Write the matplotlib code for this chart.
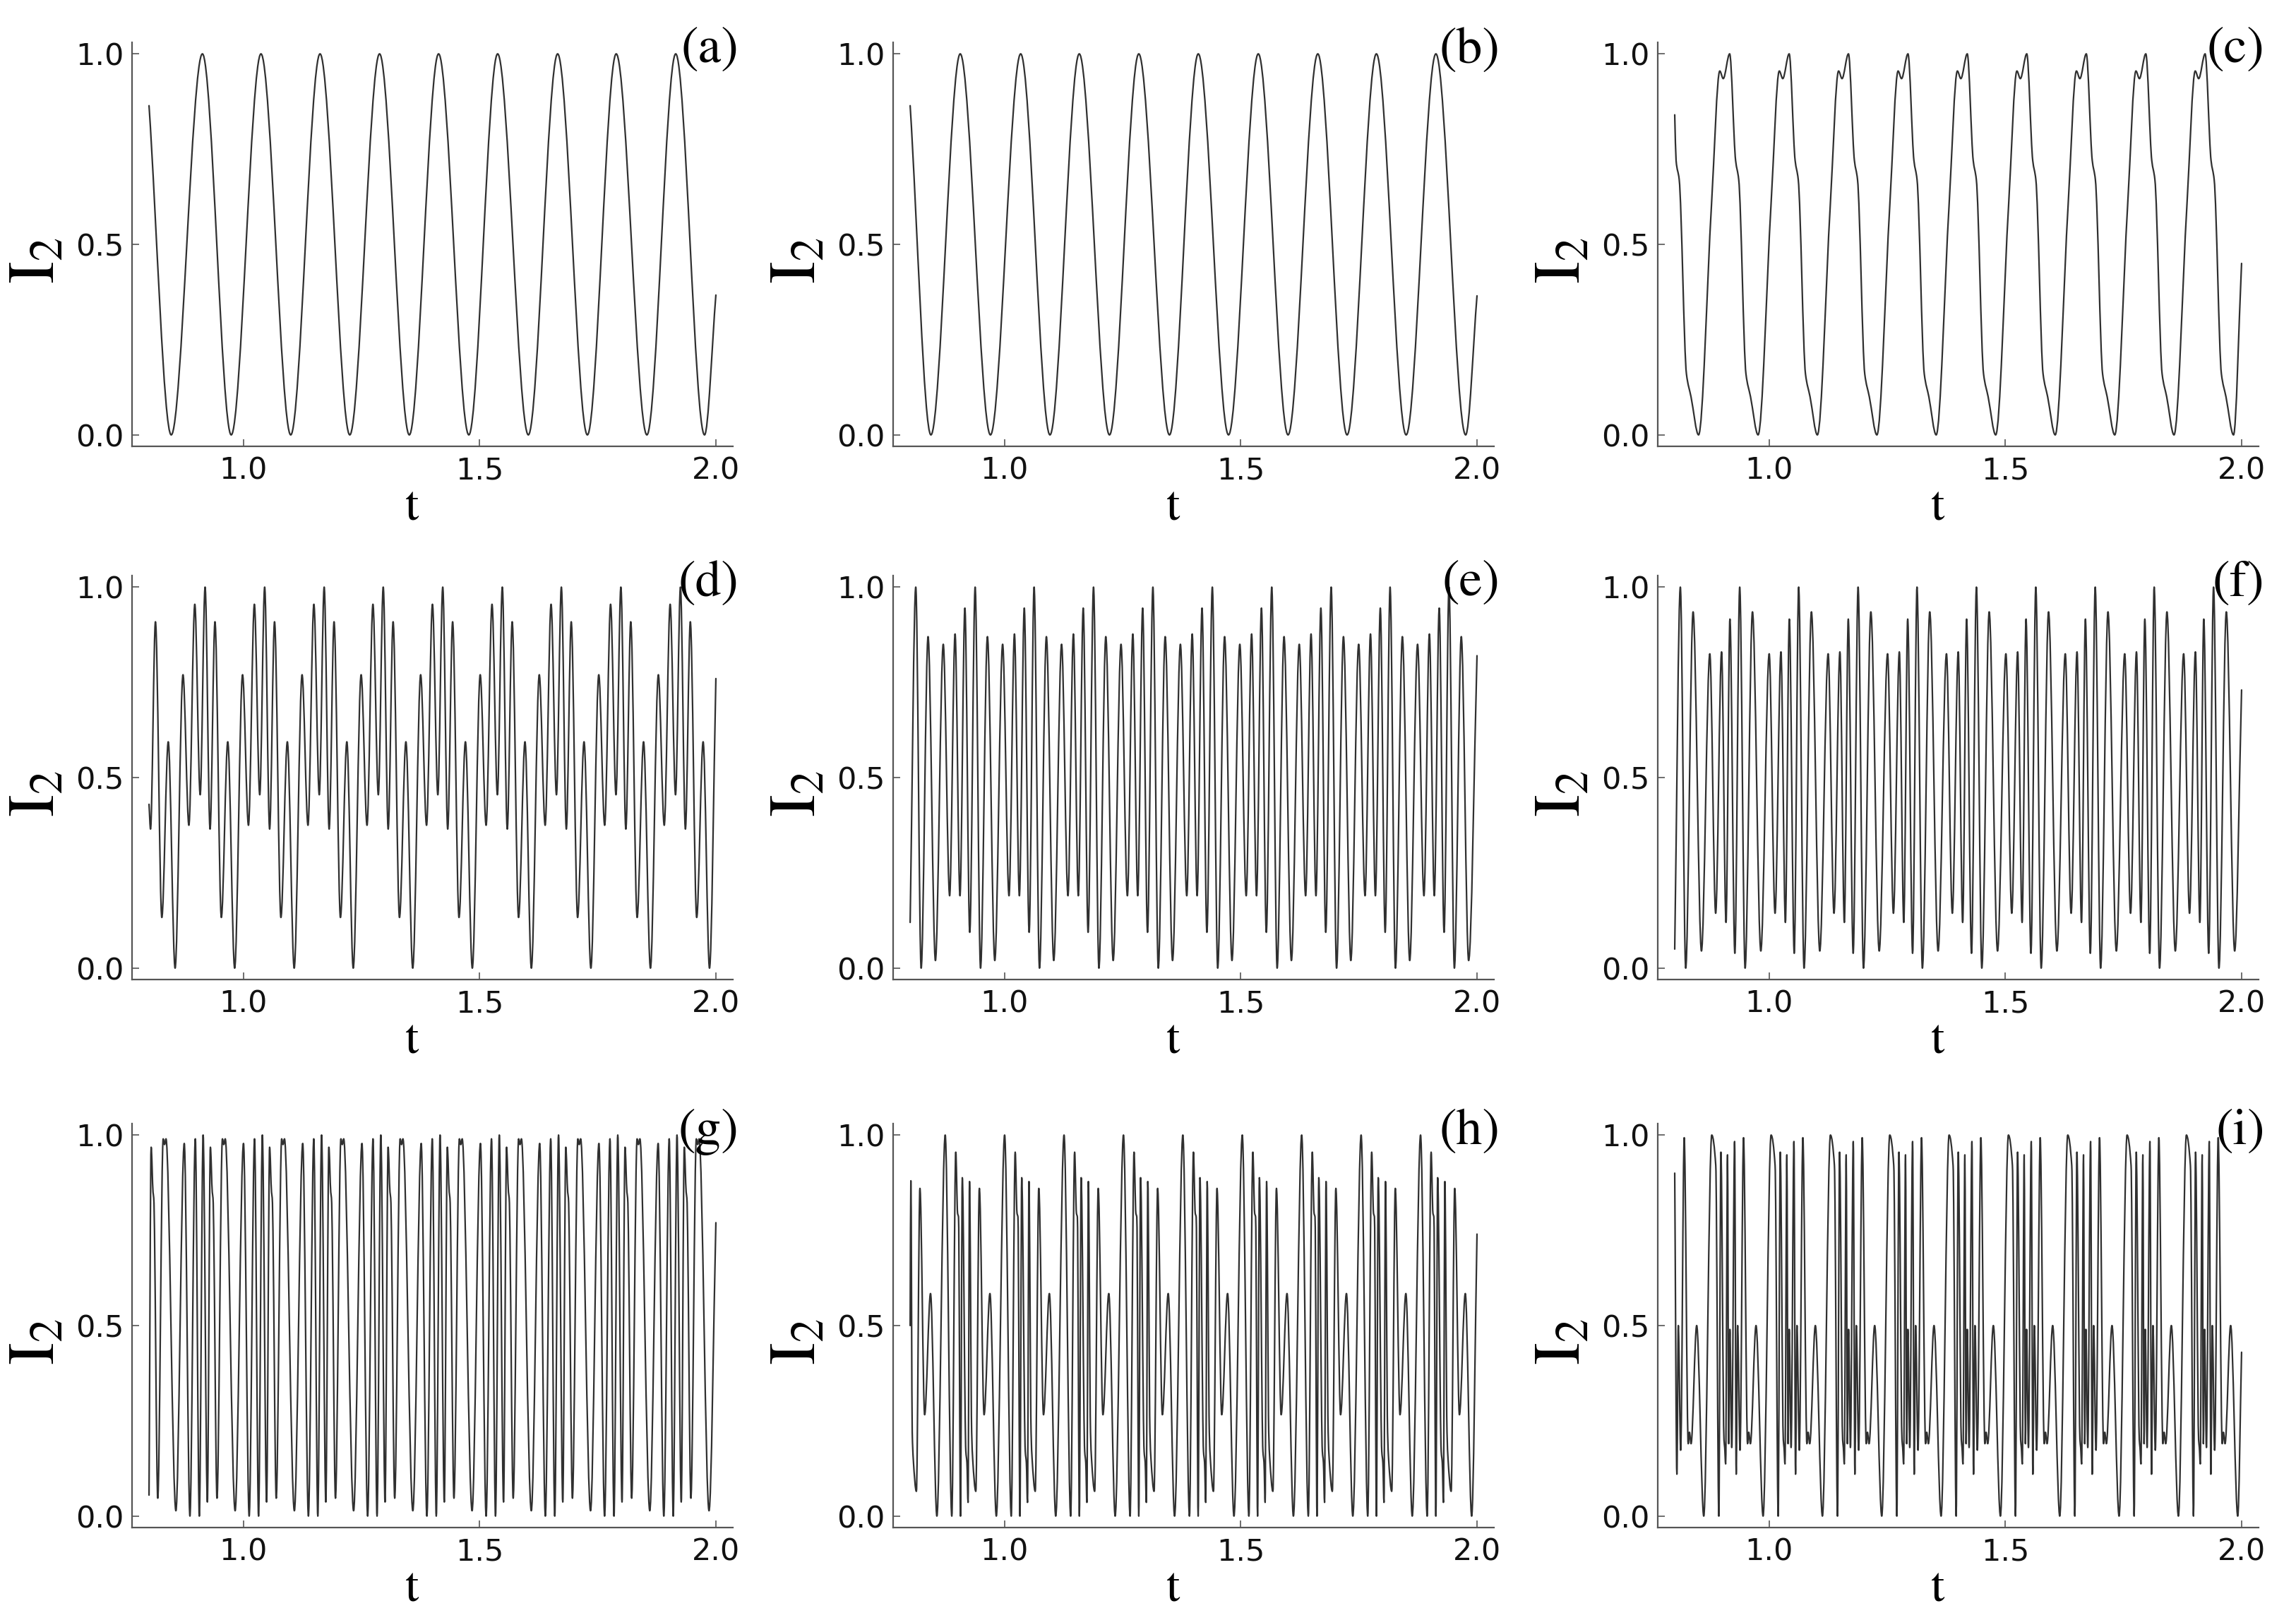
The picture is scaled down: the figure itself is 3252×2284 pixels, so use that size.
import numpy as np
import matplotlib
matplotlib.use("Agg")
import matplotlib.pyplot as plt
from matplotlib.path import Path
from matplotlib.patches import PathPatch

# ---- data ----
# (a), (b): turning points of the plain oscillation
t_a = [0.800, 0.847, 0.913, 0.974, 1.037, 1.100, 1.162, 1.225, 1.288, 1.351, 1.413,
       1.477, 1.538, 1.603, 1.665, 1.728, 1.789, 1.854, 1.915, 1.976, 2.000]
I_a = [0.864, 0, 1, 0, 1, 0, 1, 0, 1, 0, 1, 0, 1, 0, 1, 0, 1, 0, 1, 0, 0.367]

t_b = [0.800, 0.844, 0.906, 0.970, 1.034, 1.096, 1.158, 1.222, 1.284, 1.349, 1.410,
       1.474, 1.537, 1.600, 1.663, 1.725, 1.787, 1.850, 1.913, 1.976, 2.000]
I_b = [0.864, 0, 1, 0, 1, 0, 1, 0, 1, 0, 1, 0, 1, 0, 1, 0, 1, 0, 1, 0, 0.365]

# (c)-(i): every drive period looks the same, so each panel is stored as
# the start time of each period plus the turning points inside one period
c_ref = [0.7245, 0.8505, 0.9765, 1.1020, 1.2280, 1.3535, 1.4795, 1.6055, 1.7315, 1.8570, 1.9830]
c_dt = [0.0000, 0.0272, 0.0449, 0.0522, 0.0658, 0.0784, 0.0850, 0.1003, 0.1100]
c_I = [0.00, 0.60, 0.955, 0.935, 1.00, 0.72, 0.67, 0.16, 0.10]
c_ends = ([0.800], [0.84], [2.000], [0.45])

d_ref = [0.7292, 0.8552, 0.9813, 1.1073, 1.2323, 1.3583, 1.4844, 1.6094, 1.7354, 1.8615, 1.9865]
d_dt = [0.0000, 0.0167, 0.0292, 0.0417, 0.0531, 0.0635, 0.0740, 0.0844, 0.0979, 0.1115]
d_I = [0.00, 0.77, 0.375, 0.955, 0.455, 1.00, 0.365, 0.909, 0.133, 0.594]
d_ends = ([0.800], [0.43], [2.000], [0.76])

e_ref = [0.6861, 0.8119, 0.9376, 1.0624, 1.1882, 1.3139, 1.4397, 1.5655, 1.6913, 1.8160, 1.9407]
e_dt = [0.0000, 0.0114, 0.0260, 0.0416, 0.0582, 0.0717, 0.0832, 0.0936, 0.1040, 0.1143]
e_I = [1.00, 0.00, 0.87, 0.02, 0.85, 0.19, 0.877, 0.19, 0.945, 0.094]
e_ends = ([0.800], [0.12], [2.000], [0.82])

f_ref = [0.6861, 0.8119, 0.9376, 1.0624, 1.1882, 1.3129, 1.4387, 1.5644, 1.6902, 1.8150, 1.9407]
f_dt = [0.0000, 0.0114, 0.0270, 0.0447, 0.0624, 0.0748, 0.0873, 0.0967, 0.1050, 0.1154]
f_I = [1.00, 0.00, 0.935, 0.045, 0.825, 0.144, 0.83, 0.12, 0.916, 0.039]
f_ends = ([0.800], [0.05], [2.000], [0.73])

g_ref = [0.7492, 0.8746, 1.0000, 1.1254, 1.2508, 1.3762, 1.5016, 1.6270, 1.7524, 1.8778]
g_dt = [0.0000, 0.0120, 0.0234, 0.0319, 0.0399, 0.0489, 0.0553, 0.0593, 0.0608, 0.0693,
        0.0808, 0.0837, 0.0867, 0.1077]
g_I = [0.978, 0.00, 0.99, 0.00, 1.00, 0.037, 0.968, 0.85, 0.835, 0.047, 0.99, 0.975, 0.99, 0.014]
g_ends = ([0.800], [0.055], [2.000], [0.77])

h_ref = [0.7484, 0.8742, 1.0000, 1.1258, 1.2516, 1.3773, 1.5031, 1.6289, 1.7547, 1.8805]
h_dt = [0.0000, 0.0140, 0.0224, 0.0262, 0.0282, 0.0324, 0.0362, 0.0437, 0.0460, 0.0484,
        0.0515, 0.0560, 0.0582, 0.0648, 0.0723, 0.0823, 0.0947, 0.1082]
h_I = [1.00, 0.00, 0.955, 0.795, 0.785, 0.00, 0.888, 0.17, 0.14, 0.036,
       0.878, 0.22, 0.15, 0.065, 0.86, 0.266, 0.584, 0.00]
h_ends = ([0.800, 0.8015], [0.50, 0.88], [2.000], [0.74])

i_ref = [0.7528, 0.8784, 1.0040, 1.1296, 1.2552, 1.3808, 1.5064, 1.6320, 1.7576, 1.8832]
i_dt = [0.0000, 0.0085, 0.0150, 0.0194, 0.0259, 0.0274, 0.0294, 0.0334, 0.0359, 0.0384,
        0.0424, 0.0484, 0.0518, 0.0548, 0.0598, 0.0673, 0.0758, 0.0783, 0.0818, 0.0937, 0.1087]
i_I = [1.00, 0.92, 0.00, 0.955, 0.20, 0.18, 0.137, 0.948, 0.19, 0.49,
       0.18, 0.983, 0.11, 0.50, 0.173, 0.993, 0.19, 0.22, 0.19, 0.50, 0.00]
i_ends = ([0.800], [0.90], [2.000], [0.43])

panel_names = ["(a)", "(b)", "(c)", "(d)", "(e)", "(f)", "(g)", "(h)", "(i)"]


def periodic(ref, dt, vals, ends):
    t0, y0, t1, y1 = ends
    t = np.concatenate([r + np.asarray(dt) for r in ref])
    y = np.tile(vals, len(ref))
    keep = (t > t0[-1] + 0.002) & (t < t1[0] - 0.002)
    return (np.concatenate([t0, t[keep], t1]),
            np.concatenate([y0, y[keep], y1]))


def smooth_line(ax, t, y, **kw):
    # monotone cubic through the turning points, drawn as bezier segments
    t = np.asarray(t, float)
    y = np.asarray(y, float)
    h = np.diff(t)
    d = np.diff(y) / h
    m = np.zeros_like(y)
    for k in range(1, len(y) - 1):
        if d[k - 1] * d[k] > 0:
            w1 = 2 * h[k] + h[k - 1]
            w2 = h[k] + 2 * h[k - 1]
            m[k] = (w1 + w2) / (w1 / d[k - 1] + w2 / d[k])
    m[0], m[-1] = d[0], d[-1]
    verts = [(t[0], y[0])]
    codes = [Path.MOVETO]
    for k in range(len(t) - 1):
        s = h[k] / 3
        verts += [(t[k] + s, y[k] + m[k] * s), (t[k + 1] - s, y[k + 1] - m[k + 1] * s),
                  (t[k + 1], y[k + 1])]
        codes += [Path.CURVE4] * 3
    ax.add_patch(PathPatch(Path(verts, codes), fill=False, **kw))


series = [
    (np.array(t_a), np.array(I_a)),
    (np.array(t_b), np.array(I_b)),
    periodic(c_ref, c_dt, c_I, c_ends),
    periodic(d_ref, d_dt, d_I, d_ends),
    periodic(e_ref, e_dt, e_I, e_ends),
    periodic(f_ref, f_dt, f_I, f_ends),
    periodic(g_ref, g_dt, g_I, g_ends),
    periodic(h_ref, h_dt, h_I, h_ends),
    periodic(i_ref, i_dt, i_I, i_ends),
]

plt.rcParams["font.family"] = ["DejaVu Sans"]
plt.rcParams["mathtext.fontset"] = "stix"

fig = plt.figure(figsize=(32.52, 22.84), dpi=100)

lefts = [0.0575, 0.389, 0.722]
bottoms = [0.7233, 0.3927, 0.0530]
w, hgt = 0.2617, 0.2504

for n, (tt, yy) in enumerate(series):
    ax = fig.add_axes([lefts[n % 3], bottoms[n // 3], w, hgt])
    smooth_line(ax, tt, yy, edgecolor="#303030", linewidth=1.6,
                joinstyle="round", capstyle="round")
    ax.set_xlim(0.764, 2.036)
    ax.set_ylim(-0.03, 1.03)
    ax.set_xticks([1.0, 1.5, 2.0])
    ax.set_xticklabels(["1.0", "1.5", "2.0"])
    ax.set_yticks([0.0, 0.5, 1.0])
    ax.set_yticklabels(["0.0", "0.5", "1.0"])
    for side in ["top", "right"]:
        ax.spines[side].set_visible(False)
    for side in ["left", "bottom"]:
        ax.spines[side].set_color("#555555")
        ax.spines[side].set_linewidth(1.6)
    ax.tick_params(direction="in", length=7, width=1.2, color="#555555",
                   labelsize=31, labelcolor="#111111")
    ax.tick_params(axis="x", pad=10)
    ax.tick_params(axis="y", pad=8)

    ax.set_xlabel("t", fontsize=50, family="STIXGeneral")
    ax.xaxis.set_label_coords(0.465, -0.155)
    ax.xaxis.label.set_va("center")
    ax.set_ylabel(r"$\mathrm{I}_2$", fontsize=68)
    ax.yaxis.set_label_coords(-0.16, 0.46)
    ax.yaxis.label.set_va("center")

    ax.text(1.01, 0.979, panel_names[n], transform=ax.transAxes, ha="right",
            va="center", fontsize=53, family="STIXGeneral")

fig.savefig("out.png", dpi=100)
